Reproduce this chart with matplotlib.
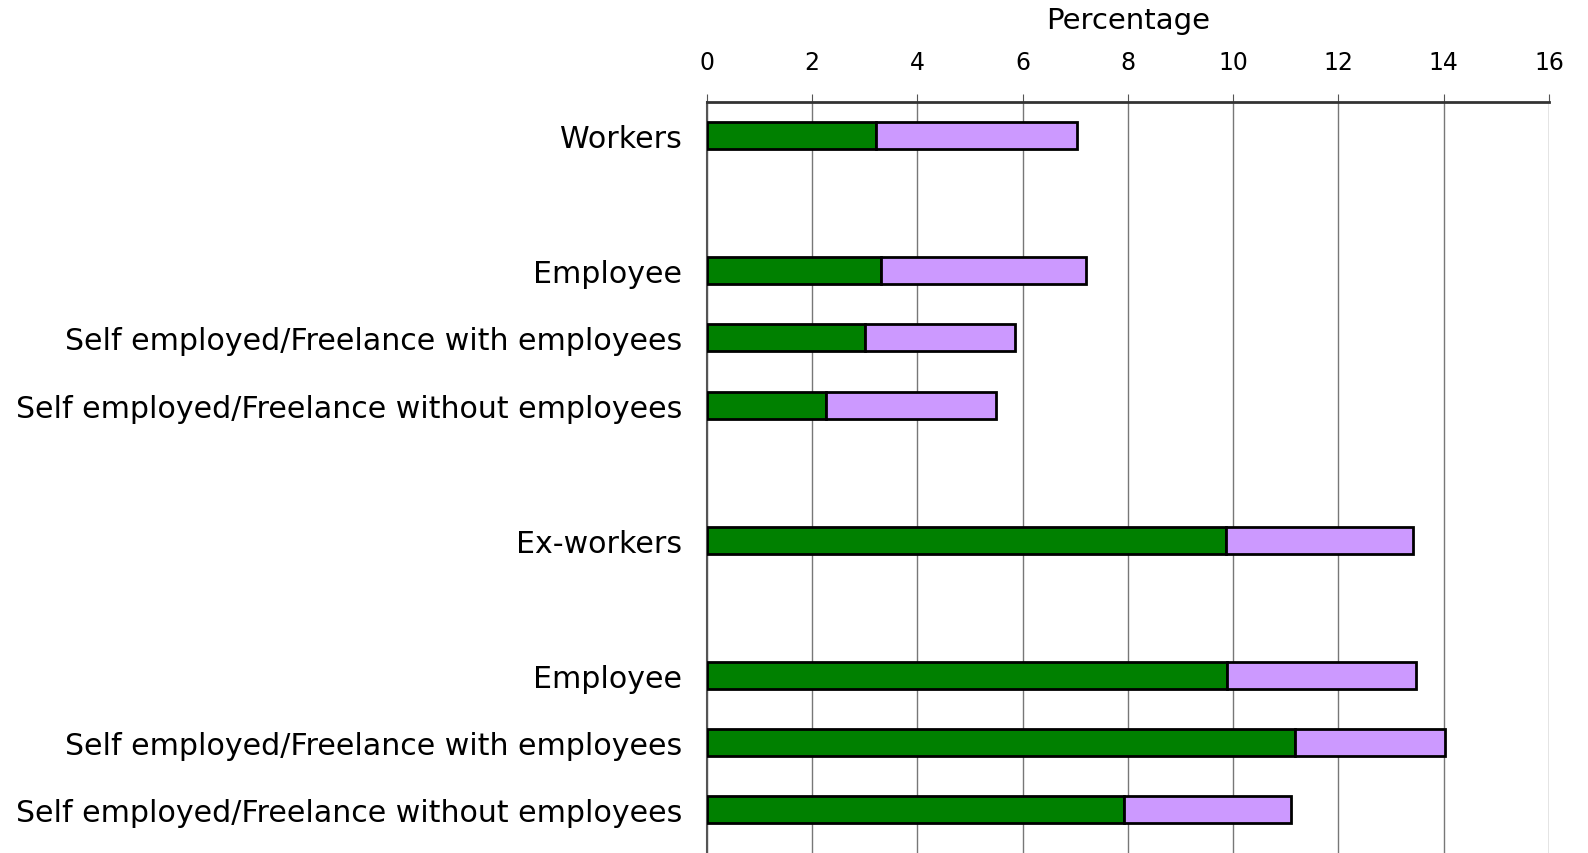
import matplotlib.pyplot as plt
import numpy as np

# chart data
labels = ['Workers', 'Employee', 'Self employed/Freelance with employees',
          'Self employed/Freelance without employees',
          'Ex-workers', 'Employee', 'Self employed/Freelance with employees',
          'Self employed/Freelance without employees']
rows = [0, 2, 3, 4, 6, 8, 9, 10]
green_vals = [3.22, 3.31, 3.01, 2.27, 9.86, 9.88, 11.18, 7.92]
total_vals = [7.04, 7.21, 5.86, 5.50, 13.41, 13.48, 14.02, 11.09]
purple_vals = [t - g for t, g in zip(total_vals, green_vals)]

fig = plt.figure(figsize=(15.88, 8.54), dpi=100)
ax = fig.add_axes([0.4452, 0.0, 0.5302, 0.8794])

ax.barh(rows, green_vals, height=0.4, color='#008000', edgecolor='black', linewidth=2, zorder=3)
ax.barh(rows, purple_vals, left=green_vals, height=0.4, color='#cc99ff',
        edgecolor='black', linewidth=2, zorder=3)

ax.set_xlim(0, 16)
ax.set_ylim(10.64, -0.5)
ax.set_xticks(np.arange(0, 17, 2))
ax.xaxis.tick_top()
ax.xaxis.set_label_position('top')
ax.set_xlabel('Percentage', fontsize=21, labelpad=16)
ax.tick_params(axis='x', labelsize=17, direction='out', length=6, pad=14, color='#555555')
ax.set_yticks(rows)
ax.set_yticklabels(labels, fontsize=21.6)
ax.tick_params(axis='y', length=0, pad=18)
ax.grid(axis='x', color='#777777', linewidth=1, zorder=0)

for s in ['right', 'bottom']:
    ax.spines[s].set_visible(False)
ax.spines['top'].set_linewidth(2)
ax.spines['top'].set_color('#333333')
ax.spines['left'].set_color('#555555')
ax.spines['left'].set_linewidth(1.5)

fig.savefig('out.png', dpi=100)
